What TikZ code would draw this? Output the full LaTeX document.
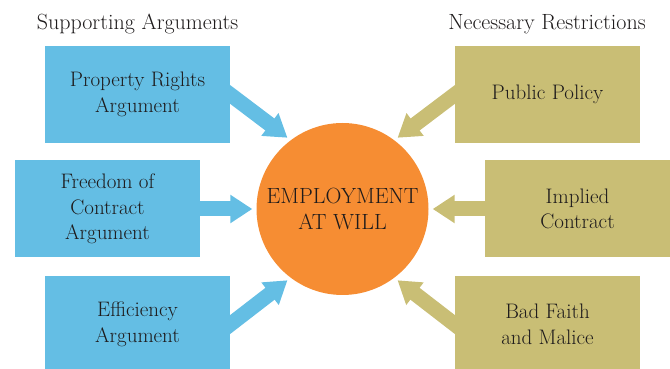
\documentclass[tikz,border=0pt]{standalone}
\usetikzlibrary{arrows.meta,backgrounds}

\definecolor{argblue}{RGB}{100,190,228}
\definecolor{resolive}{RGB}{201,190,117}
\definecolor{emporange}{RGB}{246,141,51}
\definecolor{inkgray}{RGB}{30,27,28}

\begin{document}
\begin{tikzpicture}[x=1pt, y=1pt,
    box/.style={minimum width=185pt, minimum height=97pt, inner sep=0pt,
        align=center, text=inkgray, font=\fontsize{21}{25.5}\selectfont},
    argbox/.style={box, fill=argblue},
    resbox/.style={box, fill=resolive},
    fatarrow/.style={line width=15pt, -{Triangle[width=27pt, length=22pt]},
        shorten <=-10pt, shorten >=4pt},
    heading/.style={text=inkgray, font=\fontsize{22}{24}\selectfont}]
    \clip (0,0) rectangle (670,369);

    % centre
    \node[circle, fill=emporange, minimum size=172pt, inner sep=0pt, align=center,
        text=inkgray, font=\fontsize{22}{26}\selectfont] (emp) at (342.5,160)
        {EMPLOYMENT\\AT WILL};

    % LEFT: supporting arguments
    \node[heading] (sup) at (137.5,345) {Supporting Arguments};
    \node[argbox] (prop) at (137.5,274.5) {Property Rights\\Argument};
    \node[argbox] (free) at (107.5,160) {Freedom of\\Contract\\Argument};
    \node[argbox] (eff) at (137.5,44.5) {Efficiency\\Argument};

    % RIGHT: necessary restrictions
    \node[heading] (nec) at (547,345) {Necessary Restrictions};
    \node[resbox] (pub) at (547.5,274.5) {Public Policy};
    \node[resbox] (impl) at (577.5,160) {Implied\\Contract};
    \node[resbox] (bad) at (547.5,44.5) {Bad Faith\\and Malice};

    % arrows into the circle
    \begin{scope}[on background layer]
        \draw[fatarrow, argblue] (prop.east) -- (emp.127);
        \draw[fatarrow, argblue] (free.east) -- (emp.west);
        \draw[fatarrow, argblue] (eff.east) -- (emp.233);
        \draw[fatarrow, resolive] (pub.west) -- (emp.53);
        \draw[fatarrow, resolive] (impl.west) -- (emp.east);
        \draw[fatarrow, resolive] (bad.west) -- (emp.307);
    \end{scope}
\end{tikzpicture}
\end{document}
